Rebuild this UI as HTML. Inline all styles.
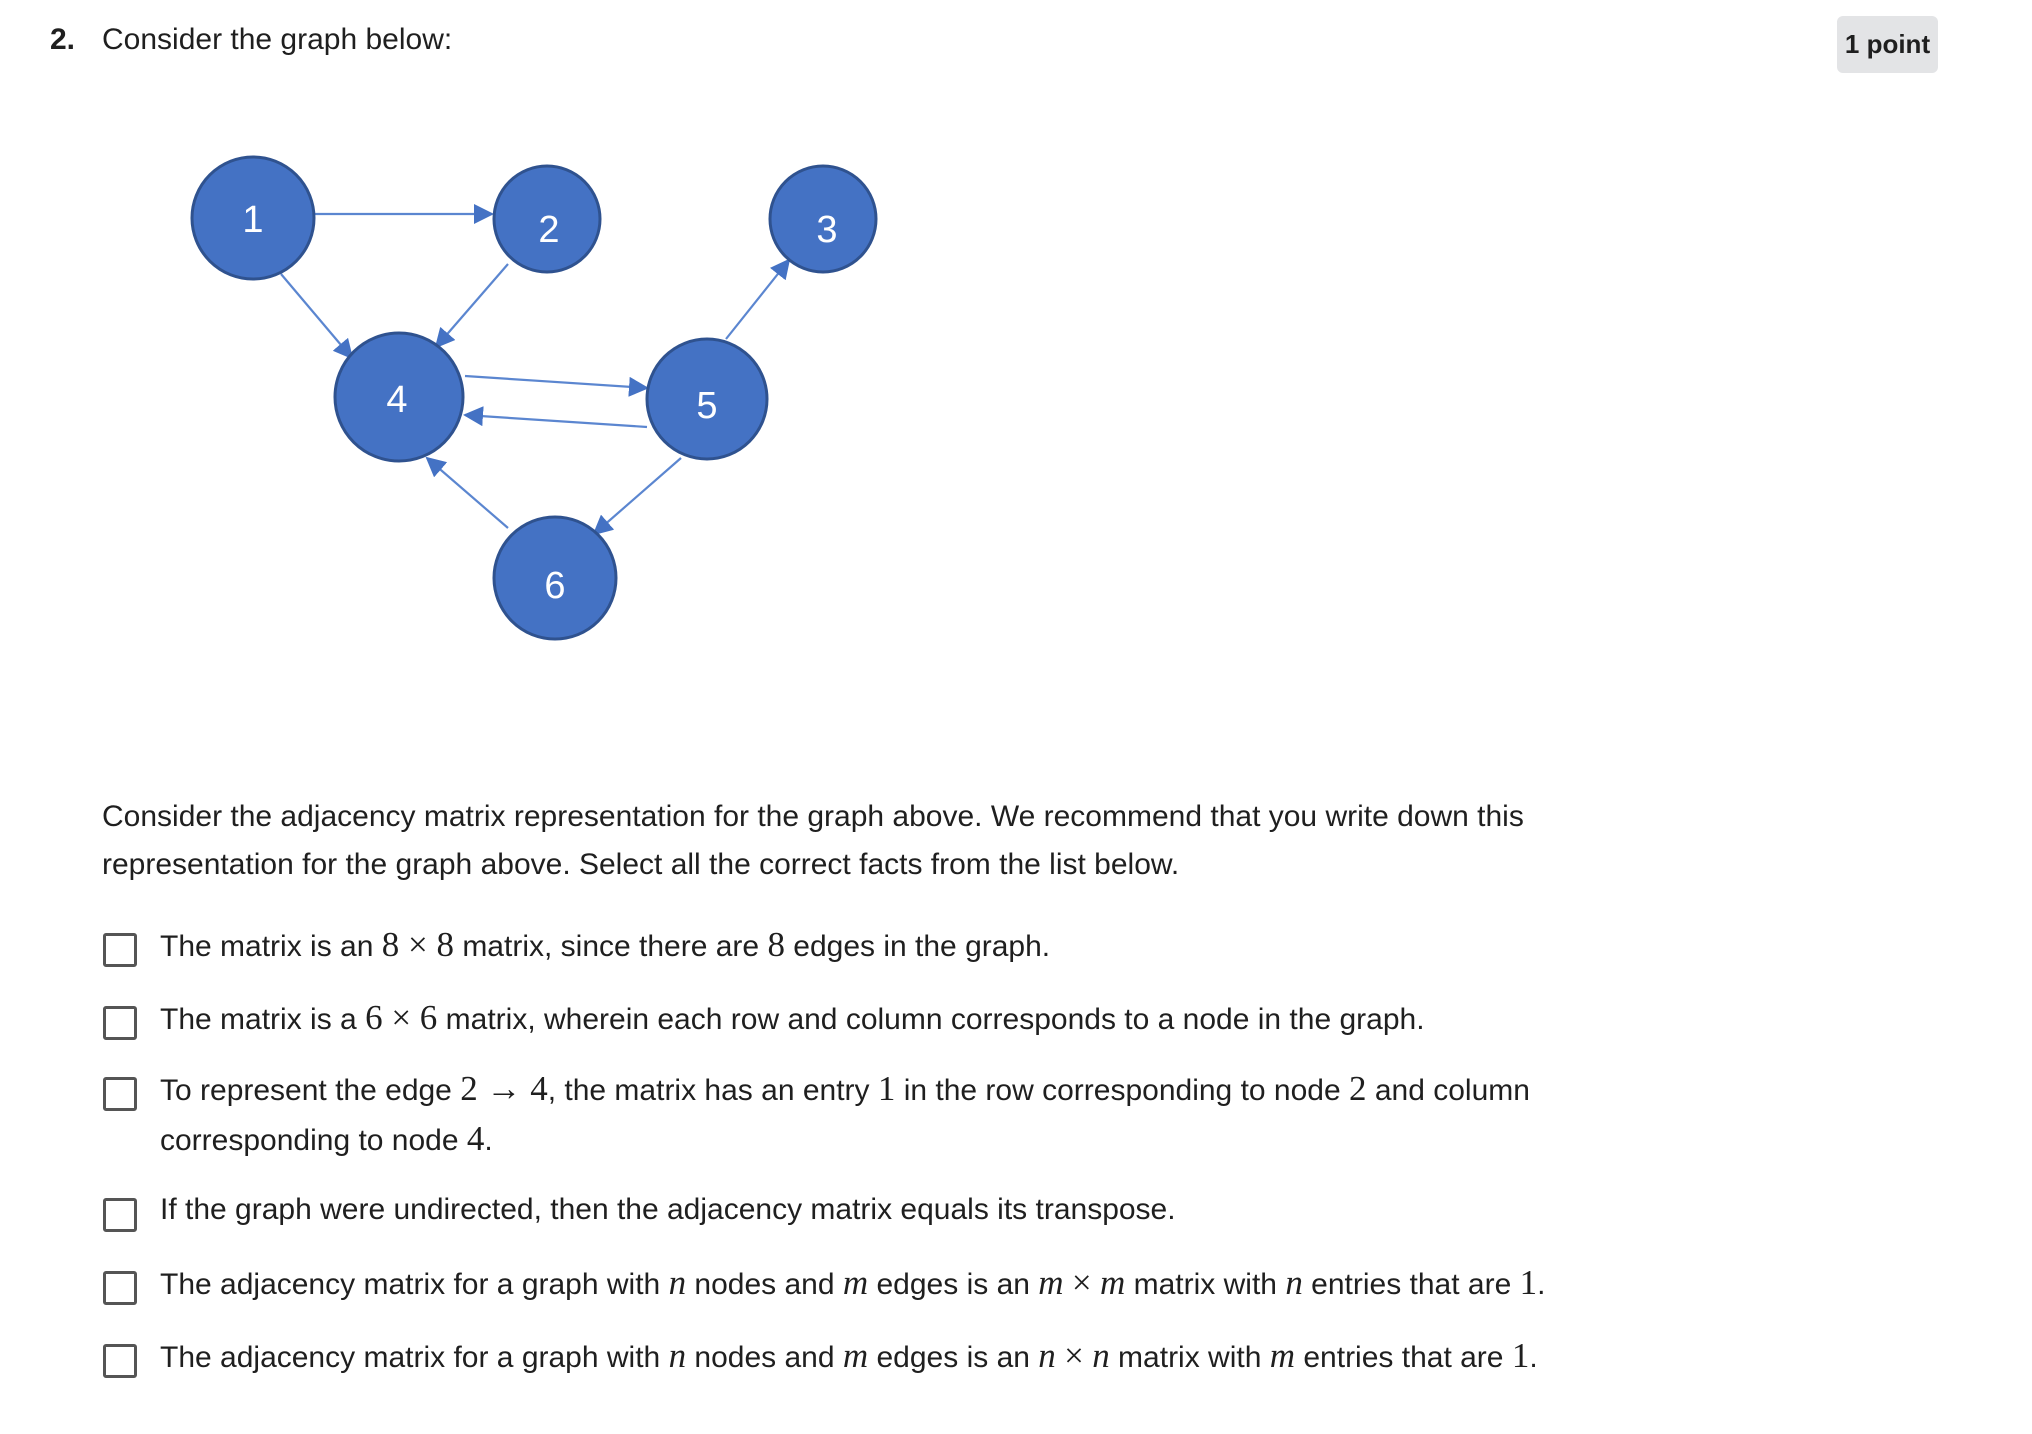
<!DOCTYPE html>
<html><head><meta charset="utf-8"><style>
body{margin:0;width:2032px;height:1434px;background:#fff;position:relative;overflow:hidden;font-family:"Liberation Sans",sans-serif;color:#1f1f1f}
.t{position:absolute;white-space:nowrap;font-size:30px;line-height:40px}
.m{font-family:"Liberation Serif",serif;font-size:35px}
.i{font-family:"Liberation Serif",serif;font-style:italic;font-size:35px}
.cb{position:absolute;left:103px;width:34px;height:34px;border:3px solid #555;border-radius:3px;box-sizing:border-box}
</style></head><body>
<div class="t" style="left:50px;top:20px;font-size:30px;"><b>2.</b></div>
<div class="t" style="left:102px;top:20px;font-size:30px;">Consider the graph below:</div>
<div style="position:absolute;left:1837px;top:16px;width:101px;height:57px;background:#e3e4e6;border-radius:6px;font-weight:bold;font-size:26px;line-height:57px;text-align:center">1 point</div>
<svg style="position:absolute;left:0;top:0" width="2032" height="800">
<defs><marker id="b" viewBox="0 0 10 10" refX="9" refY="5" markerWidth="20" markerHeight="20" orient="auto" markerUnits="userSpaceOnUse"><path d="M0,0L10,5L0,10z" fill="#4472c4"/></marker></defs>
<g stroke="#5b86d0" stroke-width="2.2" fill="none" marker-end="url(#b)">
<line x1="313" y1="214" x2="492" y2="214"/>
<line x1="281" y1="274" x2="352" y2="358"/>
<line x1="508" y1="264" x2="436" y2="347"/>
<line x1="465" y1="376" x2="647" y2="388"/>
<line x1="647" y1="427" x2="465" y2="415"/>
<line x1="726" y1="339" x2="789" y2="260"/>
<line x1="681" y1="458" x2="594" y2="534"/>
<line x1="508" y1="528" x2="427" y2="458"/>
</g>
<g fill="#4472c4" stroke="#2f528f" stroke-width="3">
<circle cx="253" cy="218" r="61"/><circle cx="547" cy="219" r="53"/><circle cx="823" cy="219" r="53"/>
<circle cx="399" cy="397" r="64"/><circle cx="707" cy="399" r="60"/><circle cx="555" cy="578" r="61"/>
</g>
<g fill="#fff" font-family="Liberation Sans,sans-serif" font-size="38" text-anchor="middle">
<text x="253" y="232">1</text><text x="549" y="242">2</text><text x="827" y="242">3</text>
<text x="397" y="412">4</text><text x="707" y="418">5</text><text x="555" y="598">6</text>
</g>
</svg>
<div class="t" style="left:102px;top:797px">Consider the adjacency matrix representation for the graph above. We recommend that you write down this</div>
<div class="t" style="left:102px;top:845px">representation for the graph above. Select all the correct facts from the list below.</div>
<div class="cb" style="top:933px"></div>
<div class="t" style="left:160px;top:925px">The matrix is an <span class="m">8 × 8</span> matrix, since there are <span class="m">8</span> edges in the graph.</div>
<div class="cb" style="top:1006px"></div>
<div class="t" style="left:160px;top:998px">The matrix is a <span class="m">6 × 6</span> matrix, wherein each row and column corresponds to a node in the graph.</div>
<div class="cb" style="top:1077px"></div>
<div class="t" style="left:160px;top:1069px">To represent the edge <span class="m">2 → 4</span>, the matrix has an entry <span class="m">1</span> in the row corresponding to node <span class="m">2</span> and column</div>
<div class="t" style="left:160px;top:1119px">corresponding to node <span class="m">4</span>.</div>
<div class="cb" style="top:1198px"></div>
<div class="t" style="left:160px;top:1190px">If the graph were undirected, then the adjacency matrix equals its transpose.</div>
<div class="cb" style="top:1271px"></div>
<div class="t" style="left:160px;top:1263px">The adjacency matrix for a graph with <span class="i">n</span> nodes and <span class="i">m</span> edges is an <span class="i">m</span> <span class="m">×</span> <span class="i">m</span> matrix with <span class="i">n</span> entries that are <span class="m">1</span>.</div>
<div class="cb" style="top:1344px"></div>
<div class="t" style="left:160px;top:1336px">The adjacency matrix for a graph with <span class="i">n</span> nodes and <span class="i">m</span> edges is an <span class="i">n</span> <span class="m">×</span> <span class="i">n</span> matrix with <span class="i">m</span> entries that are <span class="m">1</span>.</div>
</body></html>
